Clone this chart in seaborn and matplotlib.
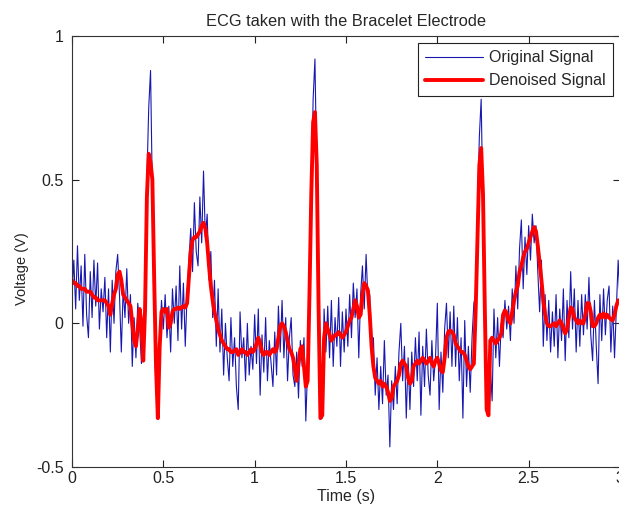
import numpy as np
import pandas as pd
import matplotlib
matplotlib.use("Agg")
import matplotlib.pyplot as plt
import seaborn as sns

# Sampling: 100 Hz over 3 s
fs = 100
n_samples = 301

# Raw ECG from the bracelet electrode (V)
original_signal = [
    0.10, 0.22, 0.05, 0.27, 0.08, 0.20, -0.01, 0.24, 0.03, -0.05,
    0.18, 0.02, 0.22, 0.06, 0.21, -0.02, 0.12, 0.04, 0.16, -0.05,
    0.12, -0.10, 0.15, 0.00, 0.18, 0.24, 0.10, -0.10, 0.12, 0.02,
    0.19, 0.00, 0.10, -0.15, 0.02, -0.12, 0.07, -0.01, -0.14, -0.10,
    0.05, 0.50, 0.75, 0.88, 0.45, 0.10, -0.18, -0.33, -0.05, 0.08,
    -0.02, 0.10, -0.05, 0.06, -0.10, 0.12, 0.00, 0.13, -0.06, 0.20,
    -0.02, 0.14, -0.08, 0.10, 0.22, 0.33, 0.18, 0.42, 0.25, 0.20,
    0.44, 0.28, 0.53, 0.30, 0.38, 0.15, 0.25, 0.02, 0.15, -0.08,
    0.12, -0.10, 0.05, -0.18, 0.00, -0.12, -0.20, 0.02, -0.15, -0.05,
    -0.22, -0.30, 0.04, -0.12, -0.05, -0.20, 0.00, -0.18, -0.08, -0.16,
    0.03, -0.14, 0.05, -0.25, -0.04, -0.17, 0.02, -0.20, -0.06, -0.14,
    -0.22, -0.03, -0.18, 0.06, -0.10, 0.08, -0.12, 0.02, -0.20, -0.05,
    0.02, -0.18, -0.22, -0.10, -0.26, -0.06, -0.15, -0.05, -0.34, -0.15,
    0.08, 0.42, 0.78, 0.92, 0.50, 0.10, -0.30, -0.33, 0.05, -0.10,
    0.06, -0.12, 0.08, -0.15, 0.02, -0.08, 0.09, -0.15, 0.04, -0.10,
    0.05, -0.08, 0.10, -0.05, 0.14, 0.02, 0.12, -0.12, 0.10, 0.20,
    0.05, 0.24, 0.08, 0.10, -0.12, -0.05, -0.25, -0.12, -0.30, -0.15,
    -0.28, -0.06, -0.25, -0.18, -0.43, -0.20, -0.30, -0.15, -0.28, -0.10,
    0.00, -0.20, -0.08, -0.33, -0.12, -0.30, -0.10, -0.22, -0.05, -0.20,
    -0.03, -0.32, -0.08, -0.22, -0.02, -0.18, -0.25, -0.06, -0.20, -0.12,
    0.07, -0.30, -0.10, -0.24, -0.02, 0.07, -0.12, 0.04, -0.15, 0.06,
    -0.15, 0.02, -0.20, -0.05, -0.33, 0.01, -0.22, -0.08, -0.24, -0.05,
    0.07, 0.10, 0.40, 0.65, 0.78, 0.40, 0.00, -0.28, -0.30, -0.15,
    -0.27, 0.05, -0.12, 0.02, -0.15, 0.00, -0.05, 0.08, -0.02, 0.06,
    -0.06, 0.12, 0.00, 0.20, 0.05, 0.26, 0.36, 0.12, 0.30, 0.17,
    0.34, 0.22, 0.38, 0.28, 0.34, 0.18, 0.04, 0.22, -0.08, 0.10,
    -0.06, 0.08, -0.10, 0.04, -0.08, 0.10, -0.12, 0.05, -0.06, 0.12,
    -0.13, 0.08, -0.05, 0.18, -0.02, 0.12, -0.10, 0.08, -0.08, 0.10,
    -0.04, 0.10, -0.02, 0.16, -0.04, -0.13, 0.08, -0.08, -0.21, 0.10,
    -0.06, 0.12, -0.04, 0.08, 0.13, -0.10, 0.06, -0.12, 0.05, 0.22,
    0.08,
]

# Wavelet-denoised ECG (V)
denoised_signal = [
    0.15, 0.14, 0.14, 0.13, 0.13, 0.12, 0.12, 0.12, 0.11, 0.11,
    0.11, 0.10, 0.09, 0.09, 0.08, 0.08, 0.08, 0.08, 0.08, 0.07,
    0.06, 0.03, 0.07, 0.10, 0.12, 0.17, 0.18, 0.15, 0.10, 0.09,
    0.08, 0.07, 0.06, 0.00, -0.06, -0.08, -0.02, 0.05, 0.00, -0.13,
    0.05, 0.44, 0.59, 0.56, 0.50, 0.15, -0.15, -0.33, -0.08, 0.04,
    0.05, 0.04, 0.05, -0.015, 0.00, 0.04, 0.05, 0.05, 0.055, 0.05,
    0.055, 0.06, 0.055, 0.07, 0.16, 0.25, 0.29, 0.30, 0.30, 0.31,
    0.32, 0.34, 0.35, 0.33, 0.28, 0.20, 0.13, 0.08, 0.04, 0.01,
    -0.02, -0.04, -0.06, -0.07, -0.08, -0.09, -0.09, -0.10, -0.10, -0.095,
    -0.09, -0.11, -0.10, -0.09, -0.10, -0.10, -0.11, -0.10, -0.09, -0.10,
    -0.09, -0.07, -0.05, -0.07, -0.10, -0.11, -0.10, -0.10, -0.11, -0.10,
    -0.09, -0.10, -0.09, -0.05, -0.01, 0.00, -0.01, -0.03, -0.06, -0.09,
    -0.10, -0.12, -0.16, -0.20, -0.14, -0.09, -0.08, -0.15, -0.22, -0.20,
    0.10, 0.45, 0.70, 0.735, 0.55, 0.05, -0.33, -0.32, -0.05, 0.00,
    -0.02, -0.04, -0.06, -0.05, -0.04, -0.04, -0.03, -0.04, -0.05, -0.04,
    -0.03, -0.01, 0.01, 0.02, 0.05, 0.08, 0.06, 0.02, 0.03, 0.10,
    0.14, 0.13, 0.115, 0.03, -0.08, -0.15, -0.19, -0.20, -0.21, -0.20,
    -0.22, -0.21, -0.22, -0.24, -0.27, -0.26, -0.22, -0.21, -0.20, -0.18,
    -0.14, -0.13, -0.14, -0.15, -0.19, -0.21, -0.20, -0.15, -0.14, -0.13,
    -0.14, -0.13, -0.12, -0.13, -0.14, -0.13, -0.12, -0.14, -0.15, -0.13,
    -0.12, -0.14, -0.165, -0.17, -0.12, -0.05, -0.03, -0.025, -0.03, -0.04,
    -0.07, -0.08, -0.09, -0.10, -0.10, -0.11, -0.13, -0.15, -0.16, -0.15,
    -0.14, 0.05, 0.30, 0.55, 0.61, 0.45, 0.05, -0.30, -0.32, -0.06,
    -0.05, -0.06, -0.07, -0.06, -0.05, -0.035, 0.03, 0.045, 0.035, 0.01,
    0.00, 0.04, 0.08, 0.11, 0.13, 0.18, 0.20, 0.23, 0.25, 0.26,
    0.28, 0.30, 0.32, 0.335, 0.32, 0.27, 0.21, 0.15, 0.08, 0.03,
    0.00, -0.01, -0.01, -0.005, 0.00, -0.01, 0.00, 0.01, 0.00, -0.02,
    -0.035, -0.02, 0.02, 0.055, 0.05, 0.02, 0.01, 0.00, 0.01, 0.00,
    0.00, 0.03, 0.07, 0.07, 0.04, -0.01, -0.01, 0.00, 0.02, 0.03,
    0.02, 0.035, 0.02, 0.03, 0.02, 0.015, 0.01, 0.03, 0.06, 0.08,
    0.08,
]

x_ticks = [0, 0.5, 1, 1.5, 2, 2.5, 3]
x_ticklabels = ["0", "0.5", "1", "1.5", "2", "2.5", "3"]
y_ticks = [-0.5, 0, 0.5, 1]
y_ticklabels = ["-0.5", "0", "0.5", "1"]

time = np.arange(n_samples) / fs
df = pd.DataFrame({"time": time,
                   "original": original_signal,
                   "denoised": denoised_signal})

sns.set_style("ticks")
plt.rcParams["font.family"] = ["Liberation Sans", "DejaVu Sans"]

fig = plt.figure(figsize=(6.19, 5.13), dpi=100)
ax = fig.add_axes([72 / 619, 46 / 513, 548 / 619, 431 / 513])

sns.lineplot(data=df, x="time", y="original", ax=ax, color="#1818b0",
             linewidth=0.8, label="Original Signal", estimator=None, sort=False)
sns.lineplot(data=df, x="time", y="denoised", ax=ax, color="#ff0000",
             linewidth=2.8, label="Denoised Signal", estimator=None, sort=False)

ax.set_xlim(0, 3)
ax.set_ylim(-0.5, 1)
ax.set_xticks(x_ticks)
ax.set_xticklabels(x_ticklabels)
ax.set_yticks(y_ticks)
ax.set_yticklabels(y_ticklabels)
ax.tick_params(direction="in", length=5, top=True, right=True,
               labelsize=11.5, colors="#222222")
ax.tick_params(axis="y", pad=6)
ax.tick_params(axis="x", pad=3)
for side in ax.spines.values():
    side.set_visible(True)
    side.set_color("#333333")
    side.set_linewidth(0.8)

ax.set_title("ECG taken with the Bracelet Electrode", fontsize=11.8, pad=7)
ax.set_xlabel("Time (s)", fontsize=11.5, labelpad=2)
ax.set_ylabel("Voltage (V)", fontsize=10.5)
ax.yaxis.set_label_coords(-0.078, 0.46)

leg = ax.legend(loc="upper right", fontsize=11.5, fancybox=False,
                framealpha=1, edgecolor="#222222", handlelength=3.6,
                borderaxespad=0.45, borderpad=0.45, labelspacing=0.5,
                handletextpad=0.4)
leg.get_frame().set_linewidth(0.8)

fig.savefig("out.png", dpi=100, facecolor="white")
